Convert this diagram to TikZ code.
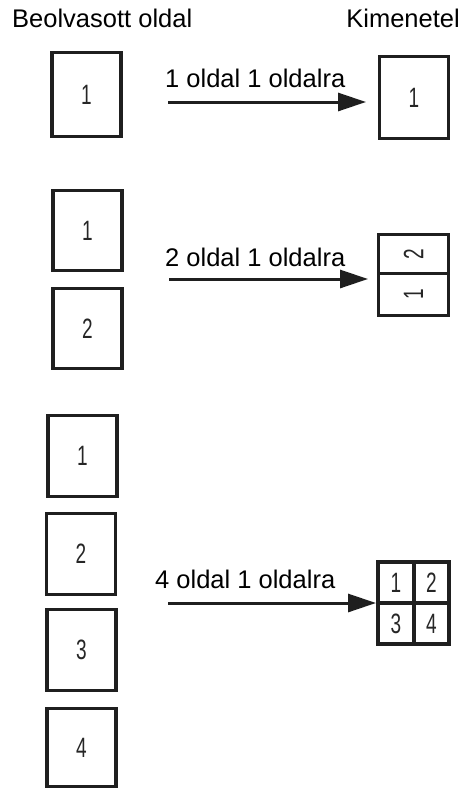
\documentclass[tikz,border=0pt]{standalone}
\usepackage{fontspec}
\setmainfont{Liberation Sans}
\newfontfamily\numfont[FakeStretch=0.68]{Liberation Sans}
\usetikzlibrary{arrows.meta}
\tikzset{
  numf/.style={font=\numfont\fontsize{28}{28}\selectfont, text=black!85},
  page/.style={draw=black!88, line width=3.2pt, rectangle, inner sep=0pt,
     minimum width=69pt, numf},
  cell/.style={draw=black!88, line width=3.2pt, rectangle, inner sep=0pt, numf},
  lbl/.style={inner sep=0pt, font=\fontsize{25.5}{26}\selectfont, text=black},
  arr/.style={draw=black!88, line width=3pt, -{Triangle[length=28pt,width=18pt]}}
}
\begin{document}
\begin{tikzpicture}[x=1pt,y=-1pt]
\useasboundingbox (0,0) rectangle (465,790);
% titles
\node[lbl, anchor=base west] (tin) at (12,27) {Beolvasott oldal};
\node[lbl, anchor=base east] (tout) at (460,27) {Kimenetel};
% section 1
\node[page, minimum height=84pt] (s1) at (86.5,94.5) {1};
\node[page, minimum height=82pt] (r1) at (414,97.5) {1};
\coordinate (a1s) at (168,102);
\coordinate (a1e) at (366,102);
\draw[arr] (a1s) -- (a1e);
\node[lbl, anchor=base west] (t1) at (165,87) {1 oldal 1 oldalra};
% section 2
\node[page, minimum height=80pt] (s2a) at (87.5,230.5) {1};
\node[page, minimum height=80pt] (s2b) at (87.5,328.5) {2};
\node[cell, minimum width=70pt, minimum height=39pt] (r2b) at (413.5,254) {};
\node[cell, minimum width=70pt, minimum height=42pt] (r2a) at (413.5,294.5) {};
\node[numf, rotate=90, inner sep=0pt] (r2bt) at (r2b.center) {2};
\node[numf, rotate=90, inner sep=0pt] (r2at) at (r2a.center) {1};
\coordinate (a2s) at (169,279);
\coordinate (a2e) at (368,279);
\draw[arr] (a2s) -- (a2e);
\node[lbl, anchor=base west] (t2) at (165,266) {2 oldal 1 oldalra};
% section 3
\node[page, minimum height=81pt] (s3a) at (82.5,456) {1};
\node[page, minimum height=81pt] (s3b) at (81,554) {2};
\node[page, minimum height=81pt] (s3c) at (81.5,650) {3};
\node[page, minimum height=78pt] (s3d) at (81.5,747.5) {4};
\node[cell, minimum width=36pt, minimum height=41pt] (q1) at (396,582.5) {1};
\node[cell, minimum width=35pt, minimum height=41pt] (q2) at (431.5,582.5) {2};
\node[cell, minimum width=36pt, minimum height=41pt] (q3) at (396,623.5) {3};
\node[cell, minimum width=35pt, minimum height=41pt] (q4) at (431.5,623.5) {4};
\coordinate (a3s) at (168,603);
\coordinate (a3e) at (376,603);
\draw[arr] (a3s) -- (a3e);
\node[lbl, anchor=base west] (t3) at (155,588) {4 oldal 1 oldalra};
\end{tikzpicture}
\end{document}
